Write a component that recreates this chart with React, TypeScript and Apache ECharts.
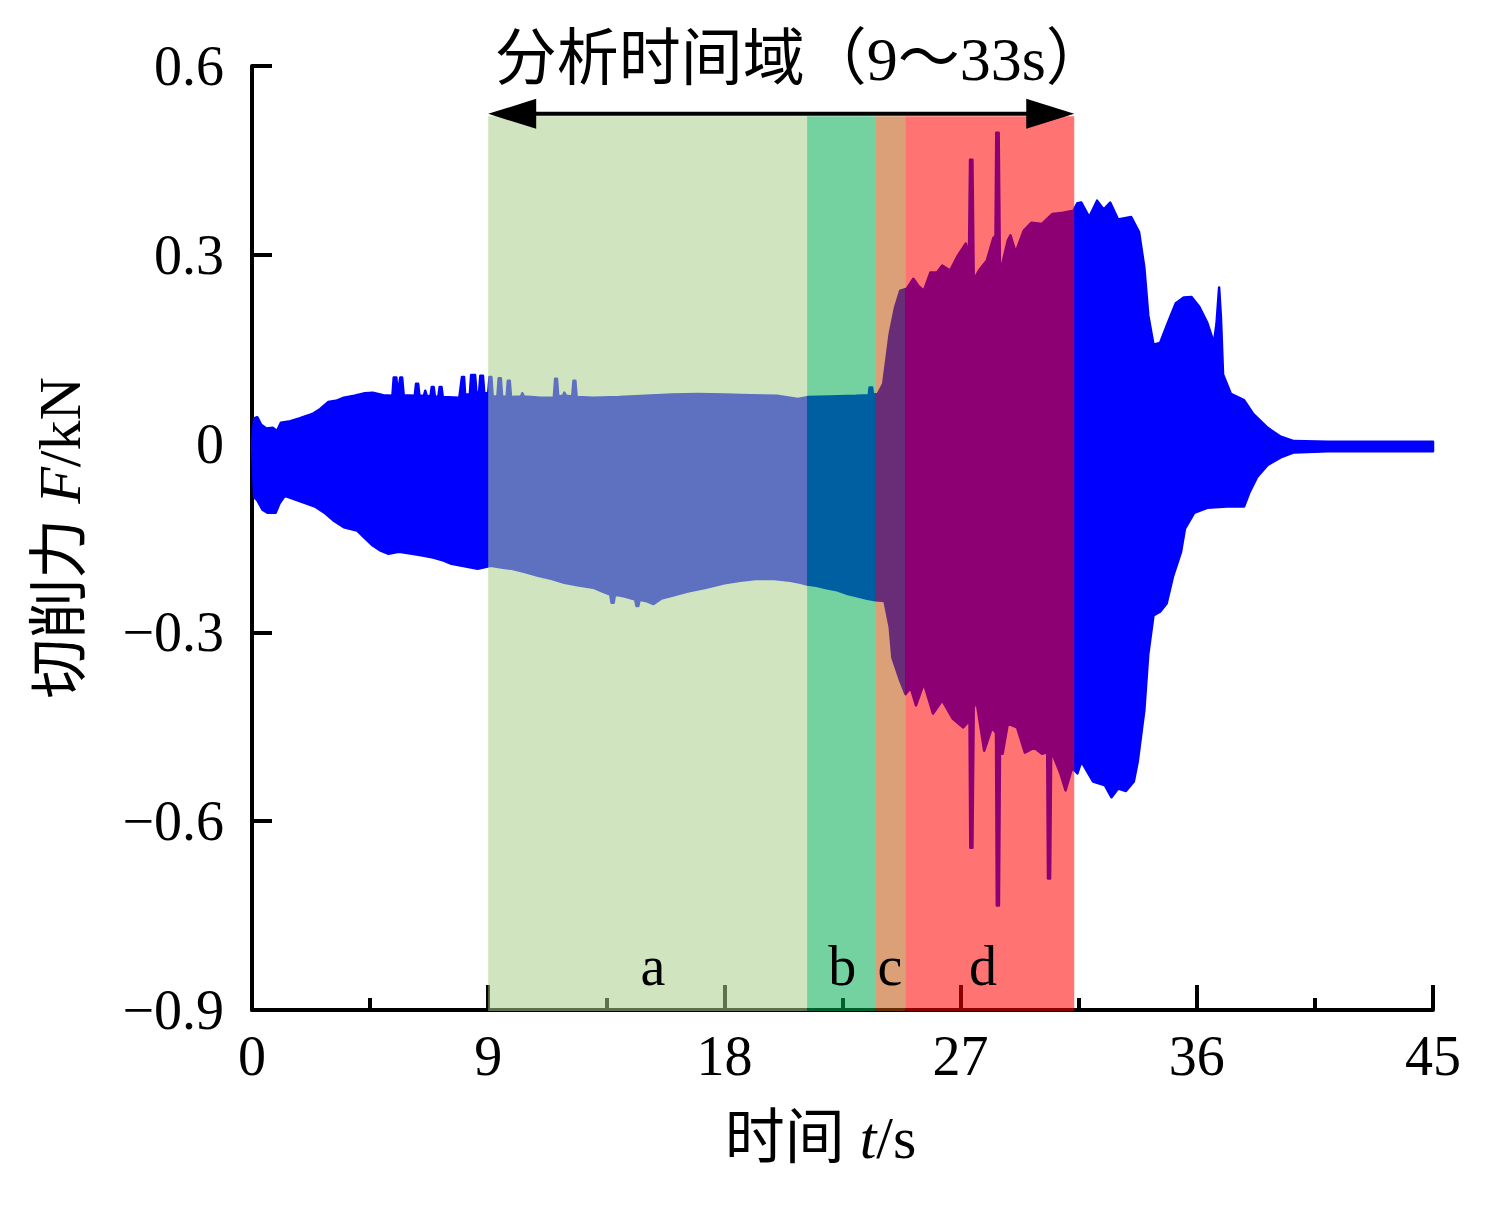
import React, { useEffect, useRef } from "react";
import * as echarts from "echarts";

const FONT = "'Liberation Serif', 'Times New Roman', 'Noto Sans CJK SC', serif";

const xTickValues = [0, 9, 18, 27, 36, 45];
const yTickValues = [-0.9, -0.6, -0.3, 0, 0.3, 0.6];

// Upper envelope of the cutting force signal [t (s), F (kN)]
const upperEnvelope: [number, number][] = [
  [0, 0.0], [0.08, 0.04], [0.2, 0.042], [0.35, 0.03], [0.55, 0.024], [0.8, 0.025], [0.95, 0.02],
  [1.1, 0.033], [1.4, 0.035], [1.8, 0.04], [2.3, 0.047], [2.6, 0.055], [2.9, 0.066], [3.2, 0.068],
  [3.5, 0.073], [3.9, 0.076], [4.3, 0.08], [4.6, 0.081], [5.0, 0.077], [5.35, 0.076], [5.4, 0.105],
  [5.5, 0.105], [5.55, 0.078], [5.65, 0.105], [5.72, 0.105], [5.78, 0.077], [6.2, 0.076], [6.25, 0.095],
  [6.33, 0.095], [6.38, 0.076], [6.55, 0.076], [6.6, 0.084], [6.66, 0.076], [6.8, 0.075], [6.85, 0.09],
  [6.92, 0.09], [6.97, 0.075], [7.1, 0.074], [7.15, 0.09], [7.22, 0.09], [7.27, 0.074], [7.9, 0.073],
  [8.0, 0.106], [8.08, 0.106], [8.12, 0.078], [8.3, 0.078], [8.35, 0.109], [8.5, 0.109], [8.55, 0.082],
  [8.65, 0.08], [8.7, 0.108], [8.8, 0.108], [8.85, 0.08], [9.0, 0.08], [9.05, 0.106], [9.12, 0.106],
  [9.17, 0.075], [9.35, 0.075], [9.4, 0.104], [9.48, 0.104], [9.53, 0.075], [9.7, 0.074], [9.75, 0.1],
  [9.82, 0.1], [9.87, 0.074], [10.25, 0.075], [10.3, 0.08], [10.36, 0.075], [11.0, 0.073], [11.5, 0.073],
  [11.55, 0.103], [11.62, 0.103], [11.67, 0.075], [11.85, 0.076], [11.9, 0.081], [11.97, 0.076],
  [12.2, 0.075], [12.25, 0.1], [12.32, 0.1], [12.37, 0.074], [13.0, 0.073], [14.0, 0.074], [15.0, 0.076],
  [16.0, 0.078], [17.0, 0.079], [18.0, 0.078], [19.0, 0.077], [20.0, 0.076], [20.8, 0.071], [21.2, 0.074],
  [22.0, 0.075], [23.0, 0.076], [23.5, 0.077], [23.53, 0.089], [23.63, 0.089], [23.66, 0.078],
  [23.85, 0.079], [24.05, 0.095], [24.3, 0.175], [24.5, 0.216], [24.7, 0.243], [24.95, 0.246],
  [25.2, 0.262], [25.4, 0.25], [25.6, 0.243], [25.85, 0.272], [26.1, 0.272], [26.3, 0.283], [26.6, 0.275],
  [26.9, 0.299], [27.2, 0.318], [27.32, 0.3], [27.36, 0.451], [27.45, 0.451], [27.5, 0.26], [27.7, 0.275],
  [28.0, 0.291], [28.25, 0.327], [28.33, 0.33], [28.36, 0.494], [28.45, 0.494], [28.5, 0.27], [28.8, 0.323],
  [28.9, 0.331], [29.1, 0.304], [29.4, 0.338], [29.7, 0.351], [30.1, 0.349], [30.5, 0.365], [30.9, 0.367],
  [31.3, 0.37], [31.45, 0.382], [31.6, 0.383], [31.9, 0.36], [32.2, 0.386], [32.45, 0.372], [32.7, 0.383],
  [33.0, 0.356], [33.5, 0.36], [33.8, 0.336], [34.0, 0.28], [34.15, 0.204], [34.35, 0.157], [34.6, 0.16],
  [34.9, 0.192], [35.2, 0.223], [35.5, 0.232], [35.8, 0.233], [36.1, 0.217], [36.4, 0.192], [36.65, 0.16],
  [36.75, 0.19], [36.85, 0.248], [36.92, 0.2], [37.0, 0.11], [37.3, 0.079], [37.8, 0.069], [38.15, 0.047],
  [38.7, 0.025], [39.2, 0.011], [39.7, 0.004], [41.0, 0.003], [45.0, 0.003],
];

// Lower envelope of the cutting force signal [t (s), F (kN)]
const lowerEnvelope: [number, number][] = [
  [0, 0.0], [0.08, -0.085], [0.2, -0.09], [0.4, -0.105], [0.6, -0.11], [0.9, -0.11], [1.05, -0.095],
  [1.25, -0.083], [1.6, -0.088], [2.0, -0.094], [2.4, -0.1], [2.8, -0.111], [3.1, -0.122], [3.5, -0.133],
  [4.0, -0.138], [4.3, -0.15], [4.6, -0.162], [4.9, -0.17], [5.2, -0.175], [5.6, -0.172], [6.1, -0.175],
  [6.5, -0.178], [6.9, -0.181], [7.3, -0.186], [7.6, -0.191], [8.1, -0.195], [8.6, -0.199], [9.1, -0.194],
  [9.5, -0.197], [9.9, -0.199], [10.4, -0.204], [10.9, -0.21], [11.4, -0.215], [11.9, -0.221],
  [12.4, -0.225], [13.0, -0.229], [13.4, -0.236], [13.65, -0.24], [13.7, -0.253], [13.78, -0.253],
  [13.83, -0.24], [14.2, -0.243], [14.6, -0.248], [14.65, -0.258], [14.72, -0.258], [14.77, -0.248],
  [15.0, -0.25], [15.3, -0.255], [15.6, -0.246], [16.0, -0.242], [16.6, -0.235], [17.3, -0.229],
  [18.0, -0.222], [18.6, -0.218], [19.2, -0.215], [19.9, -0.215], [20.5, -0.218], [20.9, -0.221],
  [21.15, -0.224], [21.5, -0.226], [21.9, -0.23], [22.3, -0.233], [22.7, -0.239], [23.1, -0.243],
  [23.4, -0.246], [23.75, -0.249], [24.1, -0.25], [24.3, -0.292], [24.4, -0.34], [24.7, -0.377],
  [24.9, -0.398], [25.1, -0.388], [25.3, -0.416], [25.6, -0.381], [25.95, -0.429], [26.3, -0.408],
  [26.7, -0.437], [27.1, -0.451], [27.34, -0.44], [27.37, -0.642], [27.45, -0.642], [27.5, -0.42],
  [27.6, -0.408], [27.9, -0.488], [28.2, -0.451], [28.35, -0.46], [28.38, -0.734], [28.46, -0.734],
  [28.5, -0.49], [28.6, -0.493], [28.8, -0.445], [29.15, -0.451], [29.45, -0.491], [29.8, -0.483],
  [30.1, -0.493], [30.3, -0.49], [30.33, -0.691], [30.41, -0.691], [30.45, -0.493], [30.5, -0.493],
  [30.8, -0.524], [31.0, -0.551], [31.25, -0.515], [31.45, -0.524], [31.6, -0.505], [32.05, -0.537],
  [32.5, -0.543], [32.75, -0.562], [33.0, -0.548], [33.3, -0.552], [33.6, -0.537], [33.75, -0.505],
  [34.0, -0.424], [34.15, -0.335], [34.35, -0.273], [34.6, -0.267], [34.85, -0.254], [35.1, -0.21],
  [35.4, -0.172], [35.55, -0.135], [35.9, -0.11], [36.4, -0.102], [37.15, -0.1], [37.8, -0.1],
  [38.0, -0.078], [38.3, -0.053], [38.7, -0.034], [39.2, -0.022], [39.7, -0.014], [41.0, -0.012],
  [45.0, -0.012],
];

const phaseNames = ["a", "b", "c", "d"];
const phaseStart = [9, 21.15, 23.74, 24.89];
const phaseEnd = [21.15, 23.74, 24.89, 31.33];
const phaseLabelT = [15.28, 22.49, 24.31, 27.85];
const phaseLabelF = [-0.83, -0.83, -0.83, -0.83];
const phaseColors = [
  "rgba(169,205,140,0.55)",
  "rgba(0,173,82,0.55)",
  "rgba(191,82,9,0.55)",
  "rgba(255,0,0,0.55)",
];
const shadeBottom = -0.9;
const shadeTop = 0.52;
const analysisWindow = [9, 31.33];
const arrowLevel = 0.524;
const titleText = "分析时间域（9～33s）";

function fmtY(v: number): string {
  const r = Math.round(v * 10) / 10;
  if (r === 0) return "0";
  return (r < 0 ? "\u2212" : "") + Math.abs(r).toFixed(1);
}

export default function App() {
  const ref = useRef<HTMLDivElement>(null);
  useEffect(() => {
    if (!ref.current) return;
    const chart = echarts.init(ref.current, undefined, { renderer: "svg" });
    const axisLine = { show: true, onZero: false, lineStyle: { color: "#000", width: 4 } };
    const option: any = {
      animation: false,
      backgroundColor: "#fff",
      grid: { left: 252, right: 62, top: 66, bottom: 195, containLabel: false },
      xAxis: {
        type: "value",
        min: 0,
        max: 45,
        interval: 9,
        axisLine,
        axisTick: { show: true, inside: true, length: 25, lineStyle: { color: "#000", width: 4 } },
        minorTick: { show: true, splitNumber: 2, length: 12, lineStyle: { color: "#000", width: 4 } },
        splitLine: { show: false },
        minorSplitLine: { show: false },
        axisLabel: {
          color: "#000",
          fontFamily: FONT,
          fontSize: 56,
          margin: 18,
          formatter: (v: number) => (xTickValues.includes(v) ? String(v) : ""),
        },
        name: "时间 {i|t}/s",
        nameLocation: "middle",
        nameGap: 98,
        nameTextStyle: {
          color: "#000",
          fontFamily: FONT,
          fontSize: 60,
          padding: [0, 44, 0, 0],
          rich: { i: { fontStyle: "italic", fontFamily: FONT, fontSize: 60, color: "#000" } },
        },
      },
      yAxis: {
        type: "value",
        min: -0.9,
        max: 0.6,
        interval: 0.3,
        axisLine,
        axisTick: { show: true, inside: true, length: 20, lineStyle: { color: "#000", width: 4 } },
        splitLine: { show: false },
        axisLabel: {
          color: "#000",
          fontFamily: FONT,
          fontSize: 56,
          margin: 28,
          formatter: (v: number) => fmtY(v),
        },
        name: "切削力 {i|F}/kN",
        nameLocation: "middle",
        nameGap: 162,
        nameTextStyle: {
          color: "#000",
          fontFamily: FONT,
          fontSize: 60,
          rich: { i: { fontStyle: "italic", fontFamily: FONT, fontSize: 60, color: "#000" } },
        },
      },
      series: [
        {
          // cutting force signal: filled band between the upper and lower envelopes
          type: "custom",
          z: 2,
          silent: true,
          data: [[0, 0]],
          renderItem: (params: any, api: any) => {
            const pts: number[][] = [];
            for (const p of upperEnvelope) pts.push(api.coord(p));
            for (let i = lowerEnvelope.length - 1; i >= 0; i--) pts.push(api.coord(lowerEnvelope[i]));
            return {
              type: "polygon",
              shape: { points: pts },
              style: { fill: "#0000ff", stroke: "#0000ff", lineWidth: 2.5, lineJoin: "round" },
            };
          },
        },
        {
          // translucent phase shading a-d, drawn above the signal and axes
          type: "custom",
          z: 5,
          silent: true,
          clip: false,
          data: phaseNames.map((n, i) => [phaseStart[i], phaseEnd[i], phaseLabelT[i], phaseLabelF[i]]),
          renderItem: (params: any, api: any) => {
            const i = params.dataIndex;
            const tl = api.coord([api.value(0), shadeTop]);
            const br = api.coord([api.value(1), shadeBottom]);
            const lp = api.coord([api.value(2), api.value(3)]);
            return {
              type: "group",
              children: [
                {
                  type: "rect",
                  shape: { x: tl[0], y: tl[1], width: br[0] - tl[0], height: br[1] - tl[1] + 1 },
                  style: { fill: phaseColors[i] },
                },
                {
                  type: "text",
                  x: lp[0],
                  y: lp[1],
                  style: {
                    text: phaseNames[i],
                    fill: "#000",
                    fontFamily: FONT,
                    fontSize: 56,
                    align: "center",
                    verticalAlign: "middle",
                  },
                },
              ],
            };
          },
        },
        {
          // analysis window arrow and its caption
          type: "custom",
          z: 10,
          silent: true,
          clip: false,
          data: [[analysisWindow[0], analysisWindow[1], arrowLevel]],
          renderItem: (params: any, api: any) => {
            const p1 = api.coord([api.value(0), api.value(2)]);
            const p2 = api.coord([api.value(1), api.value(2)]);
            const hl = 48;
            const hw = 15;
            return {
              type: "group",
              children: [
                {
                  type: "line",
                  shape: { x1: p1[0] + hl - 4, y1: p1[1], x2: p2[0] - hl + 4, y2: p2[1] },
                  style: { stroke: "#000", lineWidth: 4 },
                },
                {
                  type: "polygon",
                  shape: { points: [[p1[0], p1[1]], [p1[0] + hl, p1[1] - hw], [p1[0] + hl, p1[1] + hw]] },
                  style: { fill: "#000" },
                },
                {
                  type: "polygon",
                  shape: { points: [[p2[0], p2[1]], [p2[0] - hl, p2[1] - hw], [p2[0] - hl, p2[1] + hw]] },
                  style: { fill: "#000" },
                },
                {
                  type: "text",
                  x: (p1[0] + p2[0]) / 2 + 20,
                  y: p1[1] - 55,
                  style: {
                    text: titleText,
                    fill: "#000",
                    fontFamily: FONT,
                    fontSize: 62,
                    align: "center",
                    verticalAlign: "middle",
                  },
                },
              ],
            };
          },
        },
      ],
    };
    chart.setOption(option);
    return () => chart.dispose();
  }, []);
  return (
    <div
      ref={ref}
      style={{ position: "fixed", left: 0, top: 0, width: 1495, height: 1205, background: "#fff" }}
    />
  );
}
